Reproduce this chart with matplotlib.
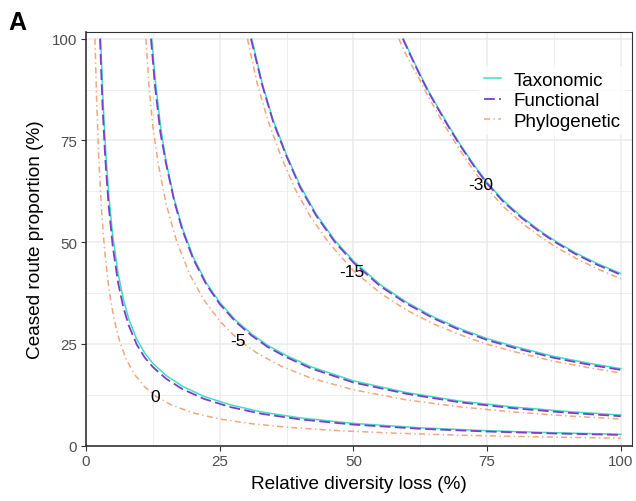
import matplotlib
matplotlib.use("Agg")
import matplotlib.pyplot as plt
from matplotlib.ticker import MultipleLocator

plt.rcParams['font.family'] = ['Liberation Sans', 'DejaVu Sans']

# contour lines of diversity change, read per metric and per level
levels = ["0", "-5", "-15", "-30"]

tax_x = {
    "0": [2.74, 3.2, 3.7, 4.3, 5, 6, 7, 8, 9.5, 11, 12.5, 15, 18, 22, 27, 33, 40, 50, 62.5, 75, 87.5, 100],
    "-5": [12.3, 13, 14, 15, 16.5, 18, 20, 22.5, 25, 28, 31, 34, 37.5, 42, 50, 60, 70, 80, 90, 100],
    "-15": [31, 33, 35, 37.5, 40, 43, 46.5, 50, 55, 60, 65, 70, 75, 80, 87.5, 95, 100],
    "-30": [59.35, 61, 62.5, 64, 66, 68, 70, 72.5, 75, 78, 81.5, 85, 88, 91.5, 95.5, 100],
}
tax_y = {
    "0": [100, 84.4, 71.9, 60.9, 51.6, 42.3, 35.9, 31.1, 26.1, 22.7, 20.2, 17.2, 14.6, 12.1, 10.0, 8.2, 6.8, 5.44, 4.35, 3.64, 3.14, 2.77],
    "-5": [100, 89.2, 77.9, 69.7, 60.6, 53.6, 46.5, 40.0, 35.2, 30.8, 27.4, 24.6, 22.1, 19.4, 15.9, 13.0, 10.9, 9.46, 8.36, 7.5],
    "-15": [100, 88.8, 80.0, 71.5, 64.0, 57.0, 50.5, 45.4, 39.6, 35.2, 31.6, 28.7, 26.3, 24.4, 21.9, 20.0, 18.9],
    "-30": [100, 95.3, 91.2, 87.3, 82.7, 78.2, 74.0, 69.1, 64.7, 60.3, 56.2, 52.7, 50.1, 47.4, 44.8, 42.3],
}

fun_x = {
    "0": [2.62, 3.1, 3.6, 4.2, 5, 6, 7, 8, 9.5, 11, 12.5, 15, 18, 22, 27, 33, 40, 50, 62.5, 75, 87.5, 100],
    "-5": [12.15, 12.9, 13.9, 15, 16.5, 18, 20, 22.5, 25, 28, 31, 34, 37.5, 42, 50, 60, 70, 80, 90, 100],
    "-15": [30.85, 33, 35, 37.5, 40, 43, 46.5, 50, 55, 60, 65, 70, 75, 80, 87.5, 95, 100],
    "-30": [59.25, 61, 62.5, 64, 66, 68, 70, 72.5, 75, 78, 81.5, 85, 88, 91.5, 95.5, 100],
}
fun_y = {
    "0": [100, 83.2, 70.6, 59.5, 49.0, 40.0, 33.9, 29.5, 24.8, 21.6, 19.3, 16.4, 13.9, 11.5, 9.44, 7.76, 6.43, 5.14, 4.11, 3.44, 2.96, 2.6],
    "-5": [100, 88.5, 77.0, 69.1, 60.1, 53.1, 46.0, 39.6, 34.8, 30.4, 27.0, 24.2, 21.7, 19.0, 15.5, 12.7, 10.6, 9.16, 8.06, 7.2],
    "-15": [100, 88.4, 79.6, 71.1, 63.6, 56.6, 50.1, 45.0, 39.2, 34.85, 31.25, 28.35, 25.95, 24.05, 21.55, 19.65, 18.6],
    "-30": [100, 95.0, 90.9, 87.0, 82.4, 77.9, 73.7, 68.8, 64.4, 60.0, 55.9, 52.4, 49.8, 47.1, 44.5, 42.0],
}

phy_x = {
    "0": [1.68, 2, 2.4, 2.9, 3.5, 4.3, 5.2, 6.3, 7.5, 9, 11, 13, 16, 20, 25, 31, 38, 47, 58, 70, 85, 100],
    "-5": [11.2, 11.8, 12.5, 13.5, 15, 17, 19.5, 22, 25, 28.5, 32, 36.5, 42, 50, 60, 70, 80, 90, 100],
    "-15": [30.2, 32, 34, 36.5, 39, 42, 45.5, 50, 55, 60, 65, 70, 75, 80, 87.5, 95, 100],
    "-30": [58.5, 60, 62.5, 64, 66, 68, 70, 72.5, 75, 78, 81.5, 85, 88, 91.5, 95.5, 100],
}
phy_y = {
    "0": [100, 84.5, 70.4, 57.9, 47.7, 38.4, 31.3, 25.6, 21.3, 17.6, 14.4, 12.15, 9.94, 8.03, 6.52, 5.35, 4.45, 3.66, 3.02, 2.53, 2.11, 1.8],
    "-5": [100, 88.1, 78.4, 69.3, 59.3, 50.0, 41.8, 35.9, 30.6, 26.0, 22.7, 19.5, 16.6, 13.7, 11.2, 9.49, 8.23, 7.27, 6.5],
    "-15": [100, 89.1, 80.0, 71.0, 63.3, 56.2, 49.7, 43.0, 37.5, 33.25, 29.9, 27.2, 24.9, 23.1, 20.7, 18.9, 17.85],
    "-30": [100, 95.7, 89.7, 85.8, 81.1, 76.7, 72.5, 67.6, 63.2, 58.8, 54.7, 51.3, 48.7, 46.1, 43.5, 41.0],
}

# where each level label sits
label_x = [12.97, 28.4, 49.7, 73.9]
label_y = [12.1, 25.8, 42.8, 64.1]

metrics = ["Taxonomic", "Functional", "Phylogenetic"]
colours = ["#40DEC6", "#7E3CC8", "#F5A67C"]

fig = plt.figure(figsize=(6.36, 5.02), dpi=100)
ax = fig.add_axes([86/636, 1 - 446.5/502, 546/636, 414/502])

series = [(tax_x, tax_y), (fun_x, fun_y), (phy_x, phy_y)]
styles = ["-", (0, (6.0, 2.4)), (0, (4.0, 2.2, 0.9, 2.2))]
widths = [1.1, 1.3, 1.1]
for (sx, sy), name, col, ls, lw in zip(series, metrics, colours, styles, widths):
    for i, lev in enumerate(levels):
        ax.plot(sx[lev], sy[lev], color=col, linestyle=ls, lw=lw,
                label=name if i == 0 else None, zorder=3)

for lev, lx, ly in zip(levels, label_x, label_y):
    ax.text(lx, ly, lev, ha="center", va="center", fontsize=12.5, color="black", zorder=5)

ax.set_xlim(0, 102.1)
ax.set_ylim(0, 101.8)
ax.xaxis.set_major_locator(MultipleLocator(25))
ax.yaxis.set_major_locator(MultipleLocator(25))
ax.xaxis.set_minor_locator(MultipleLocator(12.5))
ax.yaxis.set_minor_locator(MultipleLocator(12.5))
ax.grid(which="major", color="#EBEBEB", lw=1.1, zorder=0)
ax.grid(which="minor", color="#EBEBEB", lw=0.55, zorder=0)
ax.set_axisbelow(True)
ax.tick_params(which="minor", length=0)
ax.tick_params(which="major", length=3.3, width=0.8, color="#333333",
               labelsize=10.9, labelcolor="#4D4D4D", pad=3)

for side in ["top", "right"]:
    ax.spines[side].set_color("#333333")
    ax.spines[side].set_linewidth(0.8)
for side in ["left", "bottom"]:
    ax.spines[side].set_color("#333333")
    ax.spines[side].set_linewidth(1.2)

ax.set_xlabel("Relative diversity loss (%)", fontsize=13.7, labelpad=5)
ax.set_ylabel("Ceased route proportion (%)", fontsize=13.7, labelpad=6)

leg = ax.legend(loc="upper left", bbox_to_anchor=(0.718, 0.917), borderaxespad=0,
                frameon=True, fontsize=13.5, handlelength=0.95, handletextpad=0.65,
                labelspacing=0.18, borderpad=0.3, fancybox=False)
leg.get_frame().set_facecolor("white")
leg.get_frame().set_edgecolor("none")
leg.set_zorder(6)

fig.text(0.013, 0.978, "A", fontsize=18, fontweight="bold", ha="left", va="top")

fig.savefig("out.png", dpi=100)
